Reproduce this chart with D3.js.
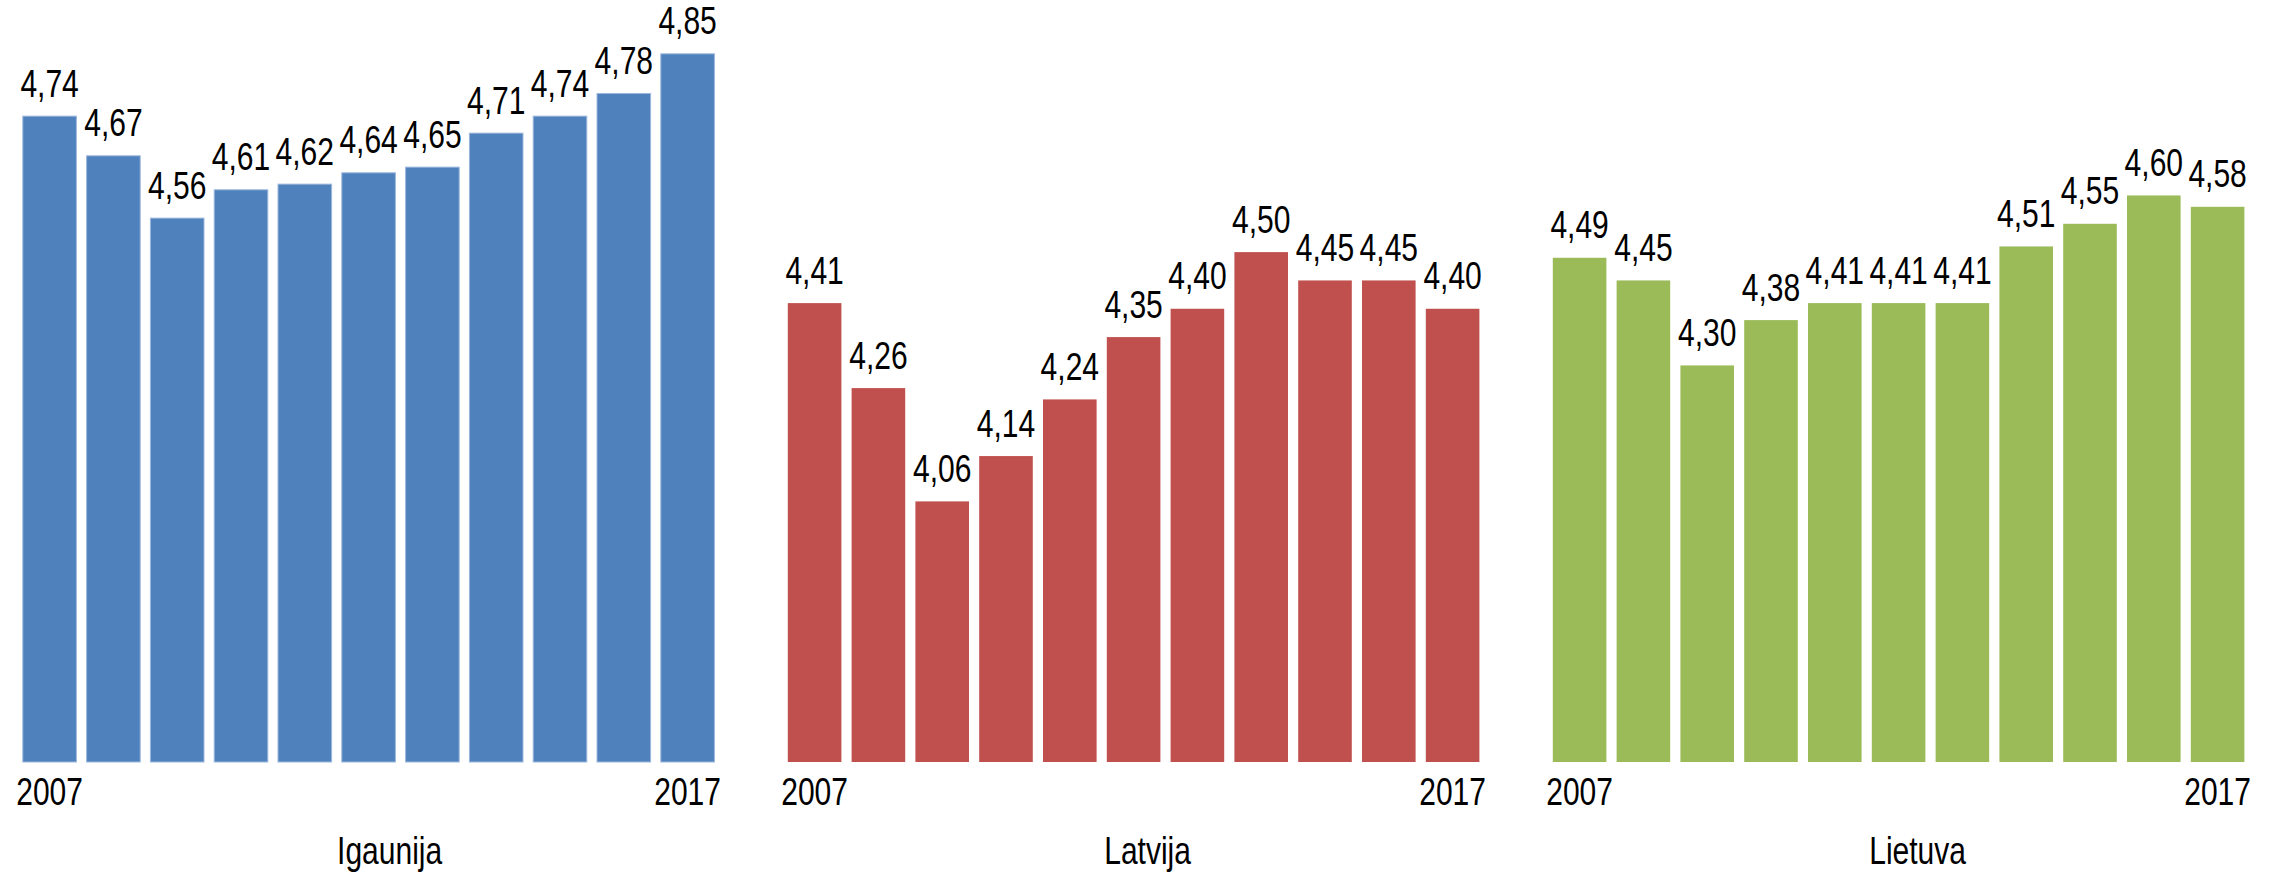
<!DOCTYPE html>
<html>
<head>
<meta charset="utf-8">
<script src="https://cdn.jsdelivr.net/npm/d3@7"></script>
<style>
  html, body { margin: 0; padding: 0; background: #ffffff; }
  svg { display: block; }
  text { font-family: "Liberation Sans", Arial, sans-serif; fill: #000; }
</style>
</head>
<body>
<svg id="chart" width="2283" height="876"></svg>
<script>
// ---- data ----
const years = [2007, 2008, 2009, 2010, 2011, 2012, 2013, 2014, 2015, 2016, 2017];
const tickYears = [2007, 2017];
const countries = ["Igaunija", "Latvija", "Lietuva"];
const igaunija = [4.74, 4.67, 4.56, 4.61, 4.62, 4.64, 4.65, 4.71, 4.74, 4.78, 4.85];
const latvija  = [4.41, 4.26, 4.06, 4.14, 4.24, 4.35, 4.40, 4.50, 4.45, 4.45, 4.40];
const lietuva  = [4.49, 4.45, 4.30, 4.38, 4.41, 4.41, 4.41, 4.51, 4.55, 4.60, 4.58];
const seriesValues = [igaunija, latvija, lietuva];
const colors = ["#4F81BD", "#C0504D", "#9BBB59"];
const strokes = ["#9DB8DC", "none", "none"];

// ---- layout ----
const W = 2283, H = 876;
const baseY = 762;
const panelStart = 22.8, panelStep = 765, panelWidth = 691.6;
const titleOffsets = [21, 14, 19];
const fontSize = 38, squeeze = 0.79;

const svg = d3.select("#chart");
const y = d3.scaleLinear().domain([3.6, 4.945]).range([baseY, 0]);
const locale = d3.formatLocale({decimal: ",", thousands: " ", grouping: [3], currency: ["", "€"]});
const fmt = locale.format(".2f");

countries.forEach((name, i) => {
  const x0 = panelStart + panelStep * i;
  const x = d3.scaleBand().domain(years).range([x0, x0 + panelWidth])
    .paddingInner(0.16).paddingOuter(0);
  const vals = seriesValues[i];
  const data = years.map((yr, k) => ({year: yr, value: vals[k]}));
  const g = svg.append("g");

  g.selectAll("rect").data(data).join("rect")
    .attr("x", d => x(d.year))
    .attr("y", d => y(d.value))
    .attr("width", x.bandwidth())
    .attr("height", d => baseY - y(d.value))
    .attr("fill", colors[i])
    .attr("stroke", strokes[i])
    .attr("stroke-width", 1);

  g.selectAll("text.val").data(data).join("text")
    .attr("class", "val")
    .attr("transform", d => `translate(${x(d.year) + x.bandwidth() / 2},${y(d.value) - 19.5}) scale(${squeeze},1)`)
    .attr("text-anchor", "middle")
    .style("font-size", fontSize + "px")
    .text(d => fmt(d.value));

  const axis = d3.axisBottom(x).tickValues(tickYears).tickSize(0).tickPadding(16.5)
    .tickFormat(d3.format("d"));
  const ax = g.append("g").attr("transform", `translate(0,${baseY})`).call(axis);
  ax.select(".domain").remove();
  ax.selectAll("text")
    .attr("fill", "#000")
    .style("font-size", fontSize + "px")
    .style("font-family", '"Liberation Sans", Arial, sans-serif')
    .attr("transform", `scale(${squeeze},1)`);

  g.append("text")
    .attr("transform", `translate(${x0 + panelWidth / 2 + titleOffsets[i]},864) scale(${squeeze},1)`)
    .attr("text-anchor", "middle")
    .style("font-size", fontSize + "px")
    .text(name);
});
</script>
</body>
</html>
